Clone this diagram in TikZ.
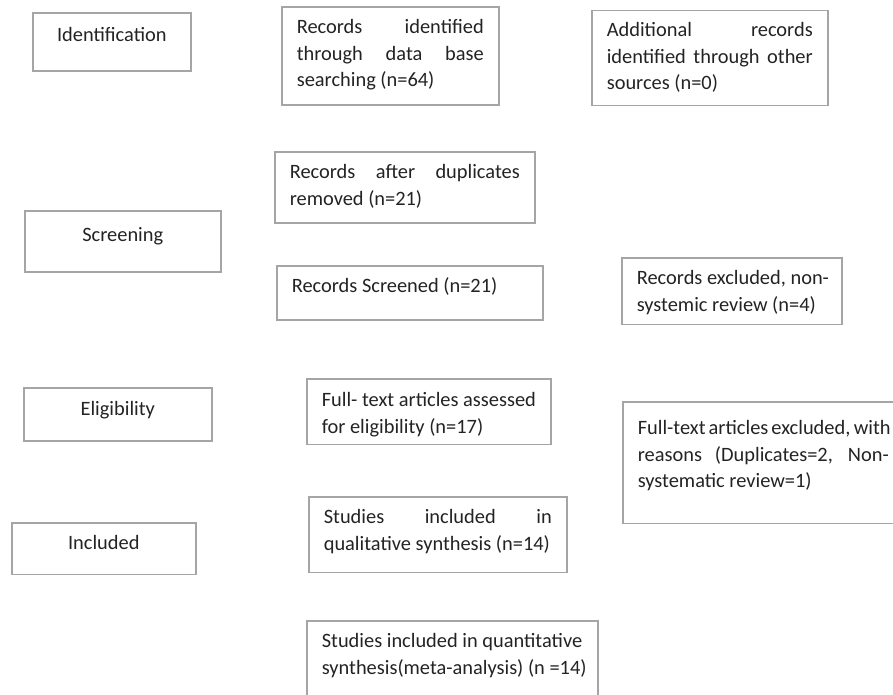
\documentclass[tikz,border=0pt]{standalone}
\usepackage{fontspec}
\setmainfont{Carlito}
\usepackage{xcolor}

\definecolor{boxgray}{RGB}{165,165,165}
\definecolor{textgray}{RGB}{35,35,35}
\newcommand{\fillline}[1]{\makebox[\linewidth][s]{\spaceskip=0pt\relax #1}}
\newcommand{\keepline}[1]{\mbox{\spaceskip=0pt\relax #1}}

\begin{document}
\begin{tikzpicture}[
        x=1pt, y=-1pt,
        flowbox/.style={
            draw=boxgray,
            line width=1.6pt,
            anchor=north west,
            inner xsep=15pt,
            inner ysep=0pt,
            text=textgray,
            font=\fontsize{20.4}{26.5}\selectfont,
          },
        stagebox/.style={flowbox, align=center},
        textbox/.style={flowbox, align=left},
    ]
    \useasboundingbox (0,0) rectangle (893,694);

    \node[stagebox, text width=128pt, text height=28.5pt, text depth=29.5pt] (ident) at (32,12) {Identification};
    \node[stagebox, text width=166pt, text height=31pt, text depth=30pt] (screen) at (24,210) {Screening};
    \node[stagebox, text width=158pt, text height=27.3pt, text depth=26pt] (elig) at (23,387) {Eligibility};
    \node[stagebox, text width=154pt, text height=27pt, text depth=24.5pt] (incl) at (11,522) {Included};

    \node[textbox, text width=187pt, text height=27pt, text depth=71pt] (recdb) at (281,6)
        {\fillline{Records identified}\\\fillline{through data base}\\\keepline{searching (n=64)}};
    \node[textbox, text width=206pt, text height=26.5pt, text depth=68.5pt] (recother) at (591,9.5)
        {\fillline{Additional records}\\\fillline{identified through other}\\\keepline{sources (n=0)}};
    \node[textbox, text width=230pt, text height=27pt, text depth=44pt] (dupl) at (274,151)
        {\fillline{Records after duplicates}\\\keepline{removed (n=21)}};
    \node[textbox, text width=236pt, text height=27pt, text depth=27pt] (screened) at (276,265)
        {\keepline{Records Screened (n=21)}};
    \node[textbox, text width=190pt, text height=26.7pt, text depth=40pt] (recexcl) at (621,257)
        {\keepline{Records excluded, non-}\\\keepline{systemic review (n=4)}};
    \node[textbox, text width=214pt, text height=27.7pt, text depth=38pt] (assessed) at (306,378)
        {\keepline{Full- text articles assessed}\\\keepline{for eligibility (n=17)}};
    \node[textbox, text width=251pt, text height=32.7pt, text depth=89pt] (ftexcl) at (622,401)
        {\fillline{Full-text articles excluded, with}\\\fillline{reasons (Duplicates=2, Non-}\\\keepline{systematic review=1)}};
    \node[textbox, text width=228pt, text height=27pt, text depth=48.5pt] (qual) at (308,496)
        {\fillline{Studies included in}\\\keepline{qualitative synthesis (n=14)}};
    \node[textbox, text width=261pt, text height=26.7pt, text depth=73pt] (quant) at (306,620)
        {\keepline{Studies included in quantitative}\\\keepline{synthesis(meta-analysis) (n =14)}};
\end{tikzpicture}
\end{document}
